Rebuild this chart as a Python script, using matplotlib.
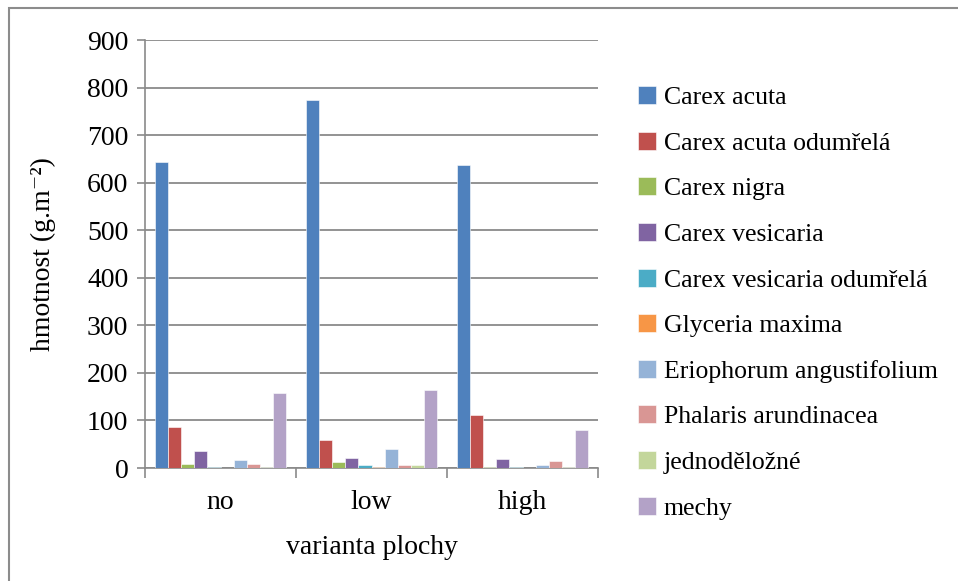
import numpy as np
import matplotlib.pyplot as plt
from matplotlib.patches import Rectangle

# Data: biomass per surface variant
variants = ["no", "low", "high"]
species = ["Carex acuta", "Carex acuta odumřelá", "Carex nigra", "Carex vesicaria",
           "Carex vesicaria odumřelá", "Glyceria maxima", "Eriophorum angustifolium",
           "Phalaris arundinacea", "jednoděložné", "mechy"]
carex_acuta = [644, 773, 638]
carex_acuta_odum = [87, 59, 112]
carex_nigra = [8, 12, 2]
carex_vesicaria = [36, 20, 19]
carex_vesicaria_odum = [3, 6, 2]
glyceria = [0.5, 2, 0.5]
eriophorum = [17, 39, 6]
phalaris = [9, 6, 14]
jednodelozne = [2, 6, 2]
mechy = [158, 164, 79]

series = [carex_acuta, carex_acuta_odum, carex_nigra, carex_vesicaria,
          carex_vesicaria_odum, glyceria, eriophorum, phalaris, jednodelozne, mechy]
colors = ["#4F81BD", "#C0504D", "#9BBB59", "#8064A2", "#4BACC6",
          "#F79646", "#95B3D7", "#D99694", "#C3D69B", "#B3A2C7"]

plt.rcParams['font.family'] = ['Liberation Serif', 'DejaVu Serif']

fig = plt.figure(figsize=(9.58, 5.81), dpi=100)
ax = fig.add_axes([145/958, 1-468/581, 453/958, 428/581])

# chart border
fig.patches.append(Rectangle((9/958, -0.1), 1.2, 1-8/581+0.1, transform=fig.transFigure,
                             fill=False, edgecolor="#8c8c8c", linewidth=1.5))

x = np.arange(len(variants))
n = len(series)
w = 0.874 / n
for i, (vals, c) in enumerate(zip(series, colors)):
    ax.bar(x - 0.437 + w * (i + 0.5), vals, width=w, color=c,
           edgecolor="#ffffff", linewidth=0.4, label=species[i], zorder=3)

ax.set_xlim(-0.5, 2.5)
ax.set_ylim(0, 900)
ax.set_yticks(range(0, 901, 100))
ax.yaxis.grid(True, color="#8a8a8a", linewidth=1.3, zorder=0)
ax.set_xticks(x)
ax.set_xticklabels(variants)
ax.set_xticks([-0.5, 0.5, 1.5, 2.5], minor=True)
ax.tick_params(axis='x', which='major', length=0, labelsize=20, pad=16)
ax.tick_params(axis='x', which='minor', length=7, color="#8a8a8a", width=1.2)
ax.tick_params(axis='y', length=6, color="#8a8a8a", width=1.2, labelsize=20, pad=6)
for s in ["top", "right"]:
    ax.spines[s].set_visible(False)
for s in ["left", "bottom"]:
    ax.spines[s].set_color("#8a8a8a")
    ax.spines[s].set_linewidth(1.2)

ax.set_ylabel("hmotnost (g.m⁻²)", fontsize=20, labelpad=22)
ax.set_xlabel("varianta plochy", fontsize=20, labelpad=14)

leg = fig.legend(loc="upper left", bbox_to_anchor=(628/958, 1-76/581), frameon=False,
                 fontsize=18.5, handlelength=0.7, handleheight=0.7, handletextpad=0.3,
                 labelspacing=0.88, borderaxespad=0)

fig.savefig("out.png", dpi=100)
